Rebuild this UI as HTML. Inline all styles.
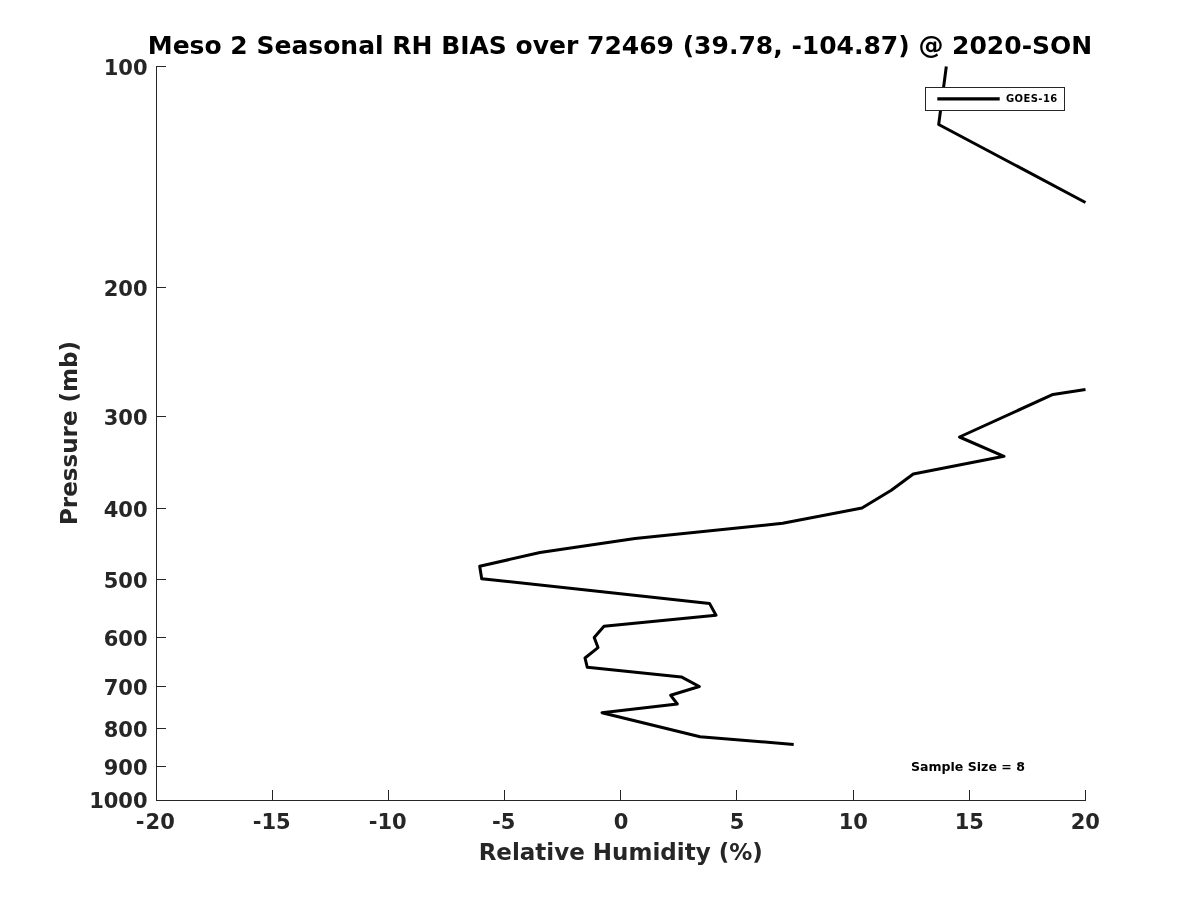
<!DOCTYPE html>
<html><head><meta charset="utf-8"><title>Meso 2 Seasonal RH BIAS</title>
<style>
html,body{margin:0;padding:0;background:#fff;}
svg{display:block;}
text{font-family:"DejaVu Sans","Liberation Sans",sans-serif;font-weight:bold;}
</style></head><body>
<svg width="1200" height="900" viewBox="0 0 1200 900">
<rect width="1200" height="900" fill="#fff"/>
<g stroke="#262626" stroke-width="1" fill="none" shape-rendering="crispEdges">
<line x1="156.5" y1="66" x2="156.5" y2="801"/>
<line x1="156" y1="800.5" x2="1086" y2="800.5"/>
<line x1="156.50" y1="801" x2="156.50" y2="790"/>
<line x1="272.50" y1="801" x2="272.50" y2="790"/>
<line x1="388.50" y1="801" x2="388.50" y2="790"/>
<line x1="504.50" y1="801" x2="504.50" y2="790"/>
<line x1="620.50" y1="801" x2="620.50" y2="790"/>
<line x1="736.50" y1="801" x2="736.50" y2="790"/>
<line x1="853.50" y1="801" x2="853.50" y2="790"/>
<line x1="969.50" y1="801" x2="969.50" y2="790"/>
<line x1="1085.50" y1="801" x2="1085.50" y2="790"/>
<line x1="156" y1="66.50" x2="166" y2="66.50"/>
<line x1="156" y1="287.50" x2="166" y2="287.50"/>
<line x1="156" y1="416.50" x2="166" y2="416.50"/>
<line x1="156" y1="508.50" x2="166" y2="508.50"/>
<line x1="156" y1="579.50" x2="166" y2="579.50"/>
<line x1="156" y1="637.50" x2="166" y2="637.50"/>
<line x1="156" y1="686.50" x2="166" y2="686.50"/>
<line x1="156" y1="728.50" x2="166" y2="728.50"/>
<line x1="156" y1="766.50" x2="166" y2="766.50"/>
<line x1="156" y1="800.50" x2="166" y2="800.50"/>
</g>
<g fill="#262626" font-size="21">
<text x="155.3" y="829.4" text-anchor="middle">-<tspan dx="1">20</tspan></text>
<text x="271.7" y="829.4" text-anchor="middle">-15</text>
<text x="387.7" y="829.4" text-anchor="middle">-10</text>
<text x="503.7" y="829.4" text-anchor="middle">-5</text>
<text x="621.0" y="829.4" text-anchor="middle">0</text>
<text x="737.0" y="829.4" text-anchor="middle">5</text>
<text x="853.3" y="829.4" text-anchor="middle">10</text>
<text x="969.3" y="829.4" text-anchor="middle">15</text>
<text x="1085.3" y="829.4" text-anchor="middle">20</text>
<text x="147.6" y="74.5" text-anchor="end">100</text>
<text x="147.6" y="295.5" text-anchor="end">200</text>
<text x="147.6" y="424.5" text-anchor="end">300</text>
<text x="147.6" y="516.5" text-anchor="end">400</text>
<text x="147.6" y="587.5" text-anchor="end">500</text>
<text x="147.6" y="645.5" text-anchor="end">600</text>
<text x="147.6" y="694.5" text-anchor="end">700</text>
<text x="147.6" y="736.5" text-anchor="end">800</text>
<text x="147.6" y="774.5" text-anchor="end">900</text>
<text x="147.6" y="807.6" text-anchor="end">1000</text>
</g>
<text x="620.7" y="859.8" text-anchor="middle" font-size="23" fill="#262626">Relative Humidity (%)</text>
<text transform="translate(77.4,433) rotate(-90)" text-anchor="middle" font-size="23" fill="#262626">Pressure (mb)</text>
<text x="620" y="54" text-anchor="middle" font-size="25" fill="#000">Meso 2 Seasonal RH BIAS over 72469 (39.78, -104.87) @ 2020-SON</text>
<g stroke="#000" stroke-width="3.0" fill="none" stroke-linejoin="round" stroke-linecap="butt">
<polyline points="946.3,66.5 938.7,124.5 1085.5,202.5"/>
<polyline points="1085.5,389.5 1053.0,394.4 959.5,437.0 1004.0,456.3 913.3,474.0 891.3,490.3 862.0,508.0 782.7,523.3 635.0,538.6 540.0,552.5 479.7,566.3 481.7,578.7 609.0,592.5 709.5,603.4 716.0,615.2 604.0,626.3 594.2,637.4 598.0,647.6 585.0,658.0 587.3,667.3 681.3,676.9 699.3,686.5 670.7,695.3 677.3,704.0 602.0,712.7 700.0,736.7 793.7,744.4"/>
</g>
<rect x="925.5" y="87.5" width="139" height="23" fill="#fff" stroke="#262626" stroke-width="1" shape-rendering="crispEdges"/>
<line x1="937.3" y1="98.95" x2="999.7" y2="98.95" stroke="#000" stroke-width="3.3"/>
<text x="1006" y="102.1" font-size="10" letter-spacing="0.4" fill="#000">GOES-16</text>
<text x="911" y="770.5" font-size="12.55" fill="#000">Sample Size = 8</text>
</svg>
</body></html>
